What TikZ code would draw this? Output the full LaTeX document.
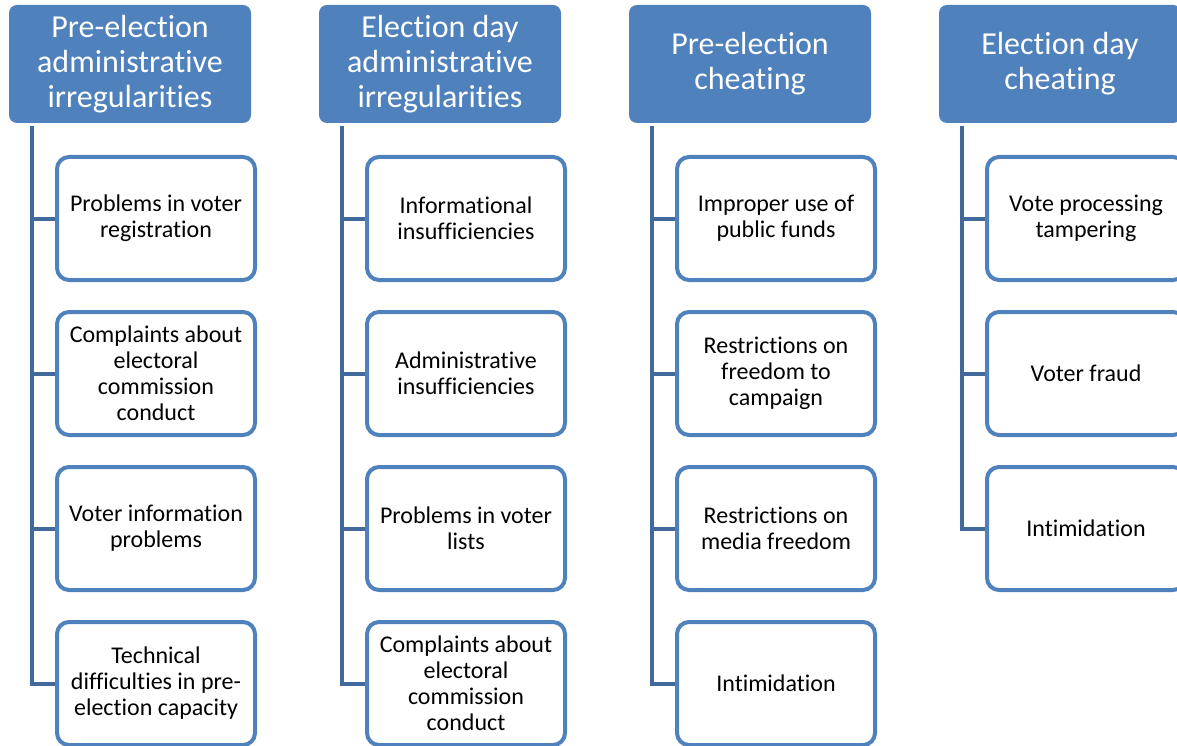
\documentclass[tikz,border=0pt]{standalone}
\usepackage{fontspec}
\setmainfont{Carlito}[Ligatures=NoCommon]
\definecolor{hblue}{HTML}{4F81BD}
\definecolor{lblue}{HTML}{41699B}
\begin{document}
\begin{tikzpicture}[x=1pt,y=-1pt,
  head/.style={fill=hblue, rounded corners=8pt, minimum width=242pt, minimum height=118pt,
    text=white, font=\fontsize{32}{35}\selectfont, align=center, inner sep=0pt},
  item/.style={draw=hblue, line width=4pt, fill=white, rounded corners=12pt,
    minimum width=198pt, minimum height=123pt, font=\fontsize{24}{26}\selectfont,
    align=center, inner sep=0pt},
  conn/.style={draw=lblue, line width=4pt}]
\useasboundingbox (0,0) rectangle (1177,746);

% headers
\node[head] (h1) at (130,64) {Pre-election\\administrative\\irregularities};
\node[head] (h2) at (440,64) {Election day\\administrative\\irregularities};
\node[head] (h3) at (750,64) {Pre-election\\cheating};
\node[head] (h4) at (1060,64) {Election day\\cheating};

% column 1
\node[item] (b11) at (156,218.5) {Problems in voter\\registration};
\node[item] (b12) at (156,373.5) {Complaints about\\electoral\\commission\\conduct};
\node[item] (b13) at (156,528.5) {Voter information\\problems};
\node[item] (b14) at (156,683.5) {Technical\\difficulties in pre-\\election capacity};
% column 2
\node[item] (b21) at (466,218.5) {Informational\\insufficiencies};
\node[item] (b22) at (466,373.5) {Administrative\\insufficiencies};
\node[item] (b23) at (466,528.5) {Problems in voter\\lists};
\node[item] (b24) at (466,683.5) {Complaints about\\electoral\\commission\\conduct};
% column 3
\node[item] (b31) at (776,218.5) {Improper use of\\public funds};
\node[item] (b32) at (776,373.5) {Restrictions on\\freedom to\\campaign};
\node[item] (b33) at (776,528.5) {Restrictions on\\media freedom};
\node[item] (b34) at (776,683.5) {Intimidation};
% column 4
\node[item] (b41) at (1086,218.5) {Vote processing\\tampering};
\node[item] (b42) at (1086,373.5) {Voter fraud};
\node[item] (b43) at (1086,528.5) {Intimidation};

% connectors
\foreach \h/\last/\list in {h1/b14/{b11,b12,b13}, h2/b24/{b21,b22,b23}, h3/b34/{b31,b32,b33}, h4/b43/{b41,b42}}{
  \draw[conn] ([xshift=23pt,yshift=-3pt]\h.south west) |- (\last.west);
  \foreach \b in \list {
    \draw[conn] ([xshift=23pt]\h.south west |- \b.west) -- (\b.west);
  }
}
\end{tikzpicture}
\end{document}
